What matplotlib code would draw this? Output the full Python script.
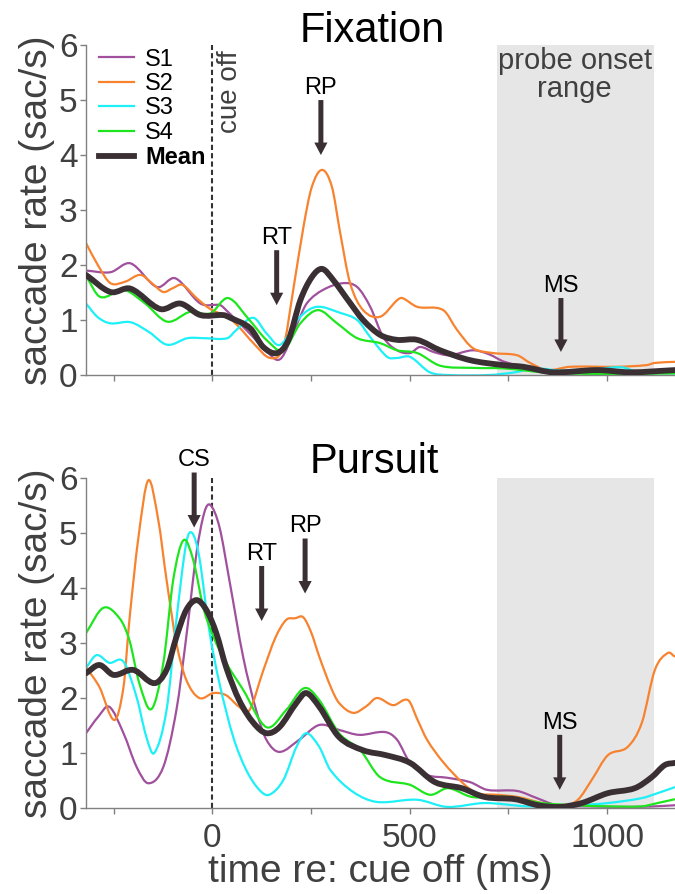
import matplotlib
matplotlib.use("Agg")
import matplotlib.pyplot as plt
from matplotlib.ticker import MultipleLocator
from matplotlib.path import Path
from matplotlib.patches import PathPatch
from matplotlib.lines import Line2D

plt.rcParams['font.family'] = ['Liberation Sans', 'DejaVu Sans']

# ---- Fixation data (time re: cue off, ms / saccade rate, sac/s) ----
fix_s1_t = [-320, -258, -207, -140, -94, -30, 20, 35, 86, 130, 172, 215, 240, 281, 331, 367, 400, 433,
            468, 501, 526, 560, 600, 660, 700, 740, 810, 870, 950, 1050, 1172]
fix_s1_v = [1.9, 1.87, 2.03, 1.6, 1.76, 1.3, 1.27, 1.18, 0.82, 0.5, 0.29, 0.94, 1.31, 1.55, 1.67, 1.6, 1.24, 0.69,
            0.45, 0.4, 0.51, 0.42, 0.36, 0.45, 0.38, 0.24, 0.12, 0.04, 0.05, 0.04, 0.05]

fix_s2_t = [-320, -290, -258, -220, -182, -150, -124, -100, -76, -40, -5, 40, 68, 104, 147, 180, 205, 231,
            252, 278, 303, 324, 349, 382, 425, 468, 481, 519, 585, 620, 660, 711, 772, 805, 848, 906, 1025,
            1100, 1121, 1172]
fix_s2_v = [2.4, 2.0, 1.67, 1.7, 1.82, 1.65, 1.51, 1.58, 1.64, 1.4, 1.2, 1.05, 0.87, 0.58, 0.31, 0.51, 1.55, 2.7,
            3.42, 3.73, 3.42, 2.58, 1.67, 1.18, 1.06, 1.36, 1.4, 1.24, 1.18, 0.82, 0.49, 0.4, 0.36, 0.22, 0.09, 0.15,
            0.15, 0.18, 0.22, 0.24]

fix_s3_t = [-320, -290, -258, -207, -160, -114, -63, -20, 38, 61, 104, 137, 172, 223, 265, 324, 367, 400,
            443, 468, 501, 551, 600, 700, 767, 817, 885, 960, 1037, 1080, 1172]
fix_s3_v = [1.3, 1.05, 0.94, 0.96, 0.78, 0.55, 0.67, 0.67, 0.67, 0.82, 1.04, 0.76, 0.55, 1.06, 1.24, 1.13, 1.0,
            0.69, 0.33, 0.31, 0.33, 0.05, 0.0, 0.0, 0.05, 0.12, 0.08, 0.1, 0.14, 0.05, 0.03]

fix_s4_t = [-320, -284, -225, -170, -114, -56, -5, 40, 94, 137, 180, 223, 268, 316, 367, 425, 468, 519,
            577, 660, 740, 838, 950, 1050, 1172]
fix_s4_v = [1.8, 1.42, 1.55, 1.3, 0.97, 1.15, 1.12, 1.4, 1.0, 0.64, 0.45, 0.94, 1.18, 0.94, 0.67, 0.58, 0.45, 0.4,
            0.17, 0.13, 0.12, 0.05, 0.02, 0.02, 0.03]

fix_mean_t = [-320, -258, -207, -132, -81, -30, 28, 46, 96, 129, 164, 193, 223, 252, 278, 306, 349, 382,
              425, 468, 519, 577, 653, 737, 787, 863, 975, 1058, 1172]
fix_mean_v = [1.82, 1.51, 1.57, 1.2, 1.3, 1.09, 1.09, 1.04, 0.85, 0.51, 0.4, 0.64, 1.36, 1.78, 1.93, 1.73, 1.31, 1.0,
              0.73, 0.64, 0.64, 0.45, 0.27, 0.18, 0.15, 0.05, 0.09, 0.05, 0.09]

# ---- Pursuit data ----
pur_s1_t = [-320, -290, -261, -225, -192, -162, -124, -91, -66, -40, -20, -5, 18, 43, 78, 111, 137, 170,
            220, 271, 321, 372, 438, 468, 501, 544, 595, 653, 696, 772, 822, 873, 950, 1050, 1120, 1172]
pur_s1_v = [1.36, 1.65, 1.84, 1.36, 0.75, 0.45, 0.75, 1.78, 3.11, 4.64, 5.38, 5.51, 5.11, 4.15, 2.75, 1.78, 1.24,
            1.02, 1.24, 1.51, 1.42, 1.33, 1.38, 1.24, 0.82, 0.6, 0.55, 0.47, 0.33, 0.31, 0.18, 0.05, 0.03, 0.02,
            0.03, 0.05]

pur_s2_t = [-320, -286, -248, -225, -210, -187, -162, -137, -116, -91, -66, -33, 3, 35, 68, 94, 129, 160,
            187, 210, 230, 250, 271, 300, 321, 357, 390, 417, 458, 496, 520, 544, 584, 635, 670, 721, 774,
            835, 885, 926, 961, 1002, 1052, 1088, 1121, 1154, 1172]
pur_s2_v = [2.56, 2.2, 1.6, 2.2, 3.42, 4.93, 5.96, 5.24, 4.15, 3.0, 2.33, 2.0, 2.09, 2.05, 1.84, 1.78, 2.5, 3.1,
            3.42, 3.45, 3.47, 3.2, 2.75, 2.2, 1.91, 1.73, 1.85, 2.0, 1.87, 1.96, 1.6, 1.24, 0.84, 0.45, 0.27, 0.24,
            0.2, 0.09, 0.02, 0.15, 0.51, 0.96, 1.11, 1.55, 2.51, 2.82, 2.75]

pur_s3_t = [-320, -293, -261, -225, -192, -167, -147, -116, -91, -66, -51, -33, -8, 18, 53, 86, 119, 144,
            180, 213, 238, 271, 299, 357, 417, 519, 595, 690, 800, 920, 1002, 1088, 1128, 1172]
pur_s3_v = [2.55, 2.78, 2.64, 2.66, 2.02, 1.29, 1.0, 1.78, 3.42, 4.82, 5.0, 4.56, 3.24, 2.27, 1.29, 0.69, 0.33,
            0.24, 0.51, 1.11, 1.36, 1.11, 0.69, 0.29, 0.11, 0.15, 0.02, 0.09, 0.03, 0.05, 0.09, 0.18, 0.27, 0.38]

pur_s4_t = [-320, -276, -235, -210, -185, -154, -124, -99, -73, -48, -23, 3, 35, 78, 137, 187, 233, 271,
            321, 375, 425, 501, 552, 597, 658, 749, 835, 918, 1002, 1088, 1128, 1172]
pur_s4_v = [3.18, 3.64, 3.45, 3.05, 2.27, 1.8, 2.64, 4.15, 4.87, 4.5, 3.65, 3.11, 2.64, 2.15, 1.47, 1.78, 2.18,
            1.96, 1.36, 1.05, 0.56, 0.42, 0.24, 0.36, 0.2, 0.2, 0.09, 0.05, 0.03, 0.03, 0.09, 0.16]

pur_mean_t = [-320, -286, -250, -200, -147, -116, -91, -66, -40, -15, 10, 35, 68, 104, 137, 170, 213, 238,
              271, 321, 382, 440, 501, 564, 632, 690, 767, 825, 880, 936, 1002, 1070, 1113, 1146, 1172]
pur_mean_v = [2.45, 2.6, 2.42, 2.51, 2.27, 2.51, 3.11, 3.6, 3.78, 3.6, 3.18, 2.56, 1.96, 1.55, 1.36, 1.47, 1.91,
              2.09, 1.84, 1.29, 1.05, 0.96, 0.82, 0.47, 0.36, 0.2, 0.16, 0.05, 0.02, 0.09, 0.27, 0.36, 0.56, 0.78,
              0.82]

probe_range = (720, 1120)

# event arrows: (label, x, tail y, tip y)
fix_events = [("RT", 163, 2.27, 1.27), ("RP", 275, 5.0, 4.0), ("MS", 883, 1.4, 0.42)]
pur_events = [("CS", -46, 6.1, 5.1), ("RT", 125, 4.4, 3.4), ("RP", 235, 4.9, 3.9), ("MS", 880, 1.33, 0.33)]

subjects = ["S1", "S2", "S3", "S4"]
colors = ["#a0509c", "#f7832f", "#1ef0f8", "#1ee61e"]
mean_color = "#3a3034"
dark = "#3a3034"
label_gray = "#404040"

fig = plt.figure(figsize=(6.75, 8.94), dpi=100)
ax1 = fig.add_axes([0.1274, 0.5805, 0.8726, 0.3691])
ax2 = fig.add_axes([0.1274, 0.0962, 0.8726, 0.3691])


def smooth_path(t, v):
    # cubic Bezier through the read points (Hermite tangents), drawn by matplotlib's path renderer
    n = len(t)
    verts = [(t[0], v[0])]
    codes = [Path.MOVETO]
    slopes = []
    for i in range(n):
        a, b = max(i - 1, 0), min(i + 1, n - 1)
        slopes.append((v[b] - v[a]) / (t[b] - t[a]))
    for i in range(n - 1):
        dx = (t[i + 1] - t[i]) / 3.0
        verts += [(t[i] + dx, v[i] + slopes[i] * dx),
                  (t[i + 1] - dx, v[i + 1] - slopes[i + 1] * dx),
                  (t[i + 1], v[i + 1])]
        codes += [Path.CURVE4] * 3
    return Path(verts, codes)


def style_axis(ax, show_xlabels):
    ax.set_xlim(-320, 1172)
    ax.set_ylim(0, 6)
    for s in ["top", "right"]:
        ax.spines[s].set_visible(False)
    for s in ["left", "bottom"]:
        ax.spines[s].set_color("#808080")
        ax.spines[s].set_linewidth(1.0)
    ax.set_yticks(range(7))
    ax.xaxis.set_major_locator(MultipleLocator(500))
    ax.xaxis.set_minor_locator(MultipleLocator(250))
    ax.tick_params(axis="both", which="both", direction="out", length=4, width=1,
                   color="#808080", labelsize=24, labelcolor=label_gray)
    ax.tick_params(axis="y", pad=2)
    ax.tick_params(axis="x", pad=7)
    if not show_xlabels:
        ax.tick_params(axis="x", labelbottom=False)
    ax.set_ylabel("saccade rate (sac/s)", fontsize=28, color=label_gray)
    ax.yaxis.set_label_coords(-0.052, 0.5)
    ax.axvspan(probe_range[0], probe_range[1], color="#e6e6e6", lw=0, zorder=0)
    ax.axvline(0, color="#333333", lw=1.5, ls=(0, (2.5, 1.5)), zorder=1)


def draw_events(ax, events):
    for name, x, y0, y1 in events:
        ax.annotate("", xy=(x, y1), xytext=(x, y0),
                    arrowprops=dict(width=3.6, headwidth=9.5, headlength=9, shrink=0,
                                    color=dark, lw=0))
        ax.text(x, y0 + 0.02, name, ha="center", va="bottom", fontsize=17, color="black",
                clip_on=False)


def draw_series(ax, times, values, mean_t, mean_v):
    for t, v, c in zip(times, values, colors):
        ax.add_patch(PathPatch(smooth_path(t, v), fill=False, edgecolor=c, lw=1.6,
                               zorder=2, joinstyle="round"))
    ax.add_patch(PathPatch(smooth_path(mean_t, mean_v), fill=False, edgecolor=mean_color,
                           lw=4.2, zorder=3, joinstyle="round", capstyle="round"))


# Fixation
style_axis(ax1, False)
draw_series(ax1, [fix_s1_t, fix_s2_t, fix_s3_t, fix_s4_t],
            [fix_s1_v, fix_s2_v, fix_s3_v, fix_s4_v], fix_mean_t, fix_mean_v)
draw_events(ax1, fix_events)
ax1.text(0.486, 1.009, "Fixation", transform=ax1.transAxes, ha="center", va="baseline",
         fontsize=30, color="black")
ax1.text(46, 5.16, "cue off", rotation=90, ha="center", va="center", fontsize=20,
         color=label_gray)
ax1.text(918, 5.45, "probe onset\nrange", ha="center", va="center", fontsize=21,
         color=label_gray, linespacing=1.0)
handles = [Line2D([], [], color=c, lw=1.6) for c in colors]
handles.append(Line2D([], [], color=mean_color, lw=4.2))
leg = ax1.legend(handles, subjects + ["Mean"], loc="upper left", bbox_to_anchor=(0.022, 0.989),
                 frameon=False, fontsize=17, handlelength=1.5, handletextpad=0.45,
                 labelspacing=0.1, borderpad=0, borderaxespad=0)
leg.get_texts()[-1].set_fontweight("bold")

# Pursuit
style_axis(ax2, True)
draw_series(ax2, [pur_s1_t, pur_s2_t, pur_s3_t, pur_s4_t],
            [pur_s1_v, pur_s2_v, pur_s3_v, pur_s4_v], pur_mean_t, pur_mean_v)
draw_events(ax2, pur_events)
ax2.text(0.49, 1.015, "Pursuit", transform=ax2.transAxes, ha="center", va="baseline",
         fontsize=30, color="black")
ax2.set_xlabel("time re: cue off (ms)", fontsize=28, color=label_gray, labelpad=0)

fig.savefig("out.png", dpi=100)
